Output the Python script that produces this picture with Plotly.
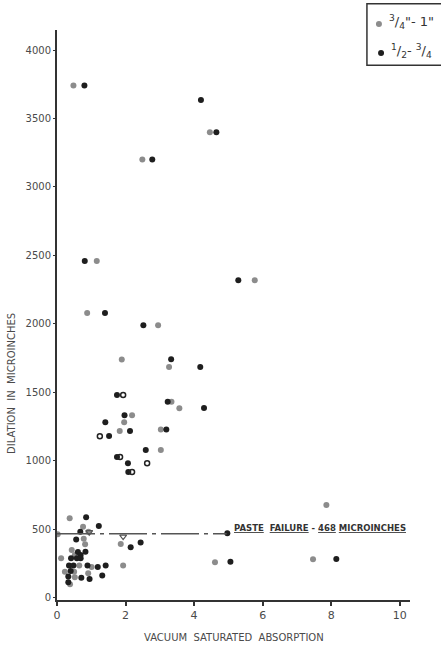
import plotly.graph_objects as go

# ---- data ----
gray_x = [0.48, 4.46, 2.49, 1.16, 0.88, 2.95, 5.77, 1.89, 3.27, 3.34, 3.57, 2.19, 1.96, 1.83, 3.03, 3.03,
          0.37, 0.76, 0.02, 0.92, 0.78, 0.82, 0.43, 0.52, 0.12, 0.65, 1.01, 0.23, 0.50, 0.52, 0.91, 0.38,
          1.86, 1.93, 7.86, 4.61, 7.47]
gray_y = [3740, 3400, 3200, 2460, 2080, 1990, 2320, 1740, 1685, 1433, 1385, 1334, 1283, 1219, 1229, 1080,
          582, 520, 465, 484, 433, 392, 350, 314, 290, 236, 226, 192, 192, 151, 180, 100,
          394, 236, 679, 261, 282]

black_x = [0.80, 4.20, 4.65, 2.78, 0.81, 1.40, 2.52, 5.29, 3.33, 4.18, 1.75, 3.23, 4.29, 1.97, 1.41, 2.13,
           3.19, 1.52, 2.59, 1.75, 2.07, 2.08,
           0.85, 1.22, 0.68, 0.56, 0.61, 0.83, 0.69, 0.41, 0.58, 0.69, 0.35, 0.48, 0.89, 1.19, 0.40, 0.33,
           0.71, 0.33, 0.95, 2.15, 2.44, 1.42, 1.32, 4.97, 5.06, 8.15]
black_y = [3740, 3635, 3400, 3200, 2460, 2080, 1990, 2320, 1742, 1686, 1482, 1433, 1387, 1334, 1283, 1219,
           1229, 1183, 1080, 1029, 983, 920,
           589, 526, 484, 426, 336, 338, 314, 290, 290, 290, 236, 236, 236, 226, 197, 156,
           148, 115, 139, 370, 404, 236, 163, 472, 265, 285]

open_x = [1.93, 1.25, 1.84, 2.63, 2.19]
open_y = [1482, 1180, 1029, 983, 920]

tri_x = [1.93, 0.94]
tri_y = [448, 480]

paste_failure = 468
paste_line_end = 4.95

x_ticks = [0, 2, 4, 6, 8, 10]
y_ticks = [0, 500, 1000, 1500, 2000, 2500, 3000, 3500, 4000]

legend_gray = '<sup>3</sup>/<sub>4</sub>"- 1"'
legend_black = '<sup>1</sup>/<sub>2</sub>- <sup>3</sup>/<sub>4</sub>'

GRAY = "#8c8c8c"
BLACK = "#1e1e1e"
FONT = "DejaVu Sans"
TXT = "#4a4a4a"

fig = go.Figure()
fig.add_trace(go.Scatter(x=gray_x, y=gray_y, mode="markers", name=legend_gray,
                         marker=dict(color=GRAY, size=6, line=dict(width=0))))
fig.add_trace(go.Scatter(x=black_x, y=black_y, mode="markers", name=legend_black,
                         marker=dict(color=BLACK, size=6, line=dict(width=0))))
fig.add_trace(go.Scatter(x=open_x, y=open_y, mode="markers", showlegend=False,
                         marker=dict(symbol="circle-open", color="#222222", size=5, line=dict(width=1.5))))
fig.add_trace(go.Scatter(x=tri_x, y=tri_y, mode="markers", showlegend=False,
                         marker=dict(symbol="triangle-down-open", color="#555555", size=6, line=dict(width=1.2))))

fig.add_shape(type="line", x0=0, x1=paste_line_end, y0=paste_failure, y1=paste_failure,
              line=dict(color="#555555", width=1.5, dash="38px,5px,4px,5px"))

fig.add_annotation(x=paste_line_end + 0.15, y=paste_failure + 40, xanchor="left", yanchor="middle",
                   text="<b><u>PASTE</u>  <u>FAILURE</u> - <u>468</u> <u>MICROINCHES</u></b>",
                   showarrow=False, font=dict(family=FONT, size=8.5, color="#333333"))

# manual legend box (top-right, partly cut by the page edge as in the reference)
fig.add_shape(type="rect", xref="paper", yref="paper", x0=0.878, x1=1.12, y0=0.938, y1=1.046,
              line=dict(color="#333333", width=1.5), fillcolor="white", layer="above")
for name, col, lx, ly in [(legend_gray, GRAY, 0.912, 1.0105), (legend_black, BLACK, 0.918, 0.9596)]:
    fig.add_shape(type="circle", xref="paper", yref="paper", xsizemode="pixel", ysizemode="pixel",
                  xanchor=lx, yanchor=ly, x0=-3, x1=3, y0=-3, y1=3,
                  fillcolor=col, line=dict(width=0), layer="above")
    fig.add_annotation(xref="paper", yref="paper", x=lx + 0.022, y=ly + 0.004, xanchor="left",
                       yanchor="middle", text=name, showarrow=False,
                       font=dict(family=FONT, size=13, color="#333333"))

fig.add_annotation(xref="paper", yref="paper", x=-0.15, y=0.38, textangle=-90,
                   text="DILATION  IN  MICROINCHES", showarrow=False,
                   font=dict(family=FONT, size=10, color=TXT))
fig.add_annotation(xref="paper", yref="paper", x=0.5, y=-0.052, yanchor="top",
                   text="VACUUM  SATURATED  ABSORPTION", showarrow=False,
                   font=dict(family=FONT, size=10, color=TXT))

fig.update_layout(
    width=441, height=646,
    margin=dict(l=57, r=31, t=30, b=46),
    plot_bgcolor="white", paper_bgcolor="white",
    showlegend=False,
    xaxis=dict(range=[0, 10.3], tickvals=x_ticks, ticktext=[str(v) for v in x_ticks],
               showgrid=False, zeroline=False, showline=True, linecolor="#333333", linewidth=2,
               ticks="outside", ticklen=4, tickcolor="#333333", tickwidth=2,
               tickfont=dict(family=FONT, size=11, color=TXT)),
    yaxis=dict(range=[-15, 4146], tickvals=y_ticks, ticktext=[str(v) for v in y_ticks],
               showgrid=False, zeroline=False, showline=True, linecolor="#333333", linewidth=2,
               ticks="outside", ticklen=2, tickcolor="#333333", tickwidth=1,
               tickfont=dict(family=FONT, size=10, color=TXT)),
)

fig.write_html("out.html")
